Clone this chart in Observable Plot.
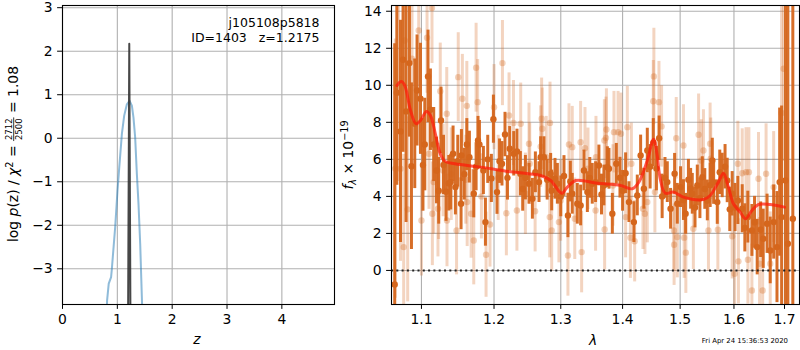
<!DOCTYPE html>
<html>
<head>
<meta charset="utf-8">
<script src="https://cdn.jsdelivr.net/npm/d3@7"></script>
<script src="https://cdn.jsdelivr.net/npm/@observablehq/plot@0.6"></script>
<style>
  html, body { margin: 0; padding: 0; background: white; }
  #wrap { position: relative; width: 800px; height: 350px; font-family: "DejaVu Sans", sans-serif; }
  #wrap svg { position: absolute; top: 0; overflow: visible; }
</style>
</head>
<body>
<div id="wrap"></div>
<script>
// ---------- Left panel: p(z) ----------
const zCurve = [0.81, 0.813, 0.843, 0.886, 0.90, 0.96, 1.003, 1.04, 1.083, 1.125, 1.174, 1.222, 1.265, 1.294, 1.325, 1.356, 1.386, 1.417, 1.447, 1.452];
const logPCurve = [-3.85, -3.73, -3.34, -3.19, -3.0, -2.05, -1.2, -0.59, 0.10, 0.52, 0.78, 0.86, 0.75, 0.48, 0.02, -0.82, -1.51, -2.43, -3.65, -3.85];
const zSpike = [1.197, 1.2175, 1.238];
const logPSpike = [-3.85, 2.17, -3.85];
const zTicks = [0, 1, 2, 3, 4];
const logPTicks = [-3, -2, -1, 0, 1, 2, 3];

// ---------- Right panel: spectrum ----------
// strong (dark) points: wavelength, flux, error
const darkLam = [1.0653,1.0680,1.0727,1.0760,1.0799,1.0843,1.0869,1.0912,1.0942,1.0987,1.1020,1.1044,1.1087,1.1119,1.1163,1.1200,1.1230,1.1261,1.1295,1.1329,1.1366,1.1393,1.1425,1.1457,1.1490,1.1535,1.1540,1.1580,1.1615,1.1651,1.1712,1.1745,1.1772,1.1792,1.1848,1.1877,1.1910,1.1962,1.1991,1.2043,1.2080,1.2115,1.2159,1.2195,1.2228,1.2287,1.2335,1.2385,1.2420,1.2460,1.2514,1.2565,1.2610,1.2665,1.2690,1.2740,1.2790,1.2843,1.2859,1.2910,1.2947,1.3000,1.3050,1.3112,1.3150,1.3180,1.3260,1.3313,1.3366,1.3421,1.3460,1.3500,1.3554,1.3608,1.3650,1.3690,1.3747,1.3773,1.3829,1.3895,1.3956,1.4000,1.4051,1.4107,1.4191,1.4249,1.4306,1.4362,1.4421,1.4470,1.4525,1.4580,1.4627,1.4680,1.4730,1.4771,1.4829,1.4901,1.4949,1.5008,1.5060,1.5099,1.5150,1.5190,1.5220,1.5270,1.5312,1.5360,1.5404,1.5450,1.5497,1.5550,1.5590,1.5615,1.5683,1.5730,1.5776,1.5830,1.5871,1.5920,1.5966,1.6020,1.6075,1.6159,1.6210,1.6268,1.6348,1.6400,1.6452,1.6520,1.6571,1.6648,1.6711,1.6781,1.6847,1.6901,1.6941,1.7021,1.7068,1.7170];
const darkFlux = [-0.76,9.6,7.51,11.38,8.59,11.2,5.63,7.92,9.72,9.27,5.7,6.80,10.48,8.68,6.80,5.4,4.3,8.10,5.7,4.25,4.71,4.77,6.3,4.50,5.9,3.60,6.21,5.2,6.8,6.12,4.14,5.6,7.02,6.80,5.40,2.61,6.0,4.97,8.17,4.23,5.9,5.76,7.34,5.0,6.57,6.30,6.43,5.22,4.4,5.01,4.68,3.87,5.3,4.77,6.12,6.12,4.9,5.22,4.32,4.95,4.68,4.0,5.1,2.97,4.8,4.14,3.60,3.51,5.40,4.23,5.0,4.68,4.77,5.67,4.1,4.59,5.58,5.49,3.06,5.76,5.01,4.3,5.25,3.69,2.61,4.05,6.21,4.41,6.48,5.6,6.9,5.5,7.14,4.0,5.0,4.77,3.33,5.22,3.60,4.50,3.8,3.06,4.9,4.41,4.14,3.4,4.59,3.9,5.04,4.4,3.78,4.6,5.94,4.77,3.69,5.3,5.13,5.6,4.86,3.3,4.14,3.4,3.78,3.33,2.3,2.88,2.16,2.6,1.26,2.2,1.71,2.52,1.08,2.61,1.26,4.77,2.88,4.86,1.44,2.79];
const darkErr = [13,5,6,5,6,4,4.5,3.5,3,3,2.5,2.5,2.5,2.2,2,1.8,1.8,1.8,1.6,1.6,1.5,1.5,1.5,1.5,1.4,1.4,1.4,1.4,1.4,1.4,1.3,1.3,1.3,1.3,1.3,1.3,1.3,1.3,1.3,1.2,1.2,1.2,1.2,1.2,1.2,1.2,1.2,1.2,1.2,1.2,1.1,1.1,1.1,1.1,1.1,1.1,1.1,1.1,1.1,1.1,1.1,1.1,1.1,1.2,1.1,1.1,1.1,1.1,1.1,1.1,1.1,1.1,1.1,1.1,1.1,1.1,1.1,1.1,1.1,1.1,1.1,1.1,1.1,1.1,1.1,1.1,1.1,1.1,1.2,1.2,1.3,1.2,1.2,1.2,1.1,1.1,1.1,1.1,1.1,1.1,1.1,1.1,1.1,1.1,1.1,1.1,1.1,1.1,1.1,1.1,1.1,1.2,1.2,1.2,1.2,1.2,1.2,1.2,1.2,1.2,1.2,1.3,1.3,1.3,1.3,1.4,1.4,1.4,1.5,1.5,1.6,1.6,1.8,2.0,3.0,4,6,11,14,14];

// weak (light) points: wavelength, flux, error
const lightLam = [1.0660,1.0700,1.0727,1.0768,1.0782,1.0820,1.0876,1.0964,1.1000,1.1074,1.1100,1.1140,1.1145,1.1163,1.1220,1.1229,1.1251,1.1290,1.1339,1.1342,1.1400,1.1473,1.1496,1.1553,1.1600,1.1615,1.1620,1.1675,1.1712,1.1745,1.1767,1.1820,1.1886,1.1942,1.2000,1.2060,1.2122,1.2179,1.2218,1.2283,1.2334,1.2390,1.2460,1.2514,1.2525,1.2606,1.2690,1.2705,1.2714,1.2775,1.2829,1.2833,1.2859,1.2971,1.2998,1.3112,1.3128,1.3180,1.3220,1.3313,1.3329,1.3383,1.3431,1.3554,1.3560,1.3698,1.3702,1.3724,1.3731,1.3839,1.3856,1.3924,1.3973,1.4051,1.4080,1.4132,1.4148,1.4204,1.4346,1.4380,1.4421,1.4525,1.4535,1.4553,1.4624,1.4670,1.4889,1.4892,1.4930,1.4949,1.5060,1.5073,1.5103,1.5240,1.5336,1.5385,1.5425,1.5518,1.5549,1.5561,1.5694,1.5966,1.6012,1.6075,1.6086,1.6159,1.6233,1.6270,1.6289,1.6348,1.6478,1.6499,1.6560,1.6628,1.6711,1.6780,1.6940,1.6982];
const lightFlux = [5.5,9.8,5.49,1.26,12.42,3.3,11.43,12.96,2.70,12.57,6.3,14.18,3.06,4.77,3.33,4.27,9.68,5.4,8.46,2.70,5.2,2.16,10.44,9.27,4.9,8.89,3.69,3.06,1.62,10.95,9.09,4.0,0.85,2.48,8.82,5.0,11.2,3.09,8.37,7.96,3.24,7.92,4.14,6.84,5.76,3.20,6.69,8.19,7.65,6.12,2.88,7.97,2.16,2.61,3.78,0.81,6.80,6.66,2.79,6.93,0.99,6.60,5.49,3.24,6.12,7.02,2.21,7.16,7.61,4.59,7.47,7.47,7.38,2.88,7.74,1.77,5.76,1.58,3.33,3.06,3.69,9.14,10.48,4.23,9.09,7.78,2.16,1.39,7.14,1.80,6.75,1.77,0.96,2.25,7.33,5.94,6.48,2.16,6.84,6.03,2.20,1.84,-0.18,5.76,0.49,5.25,5.31,0.58,5.31,-1.08,4.95,0.36,-1.08,5.22,0.36,4.50,8.5,10.89];
const lightErr = [7,5,5,5,4,5,3.5,3,3,3,3,3,2.8,2.8,2.6,2.6,2.6,2.5,2.5,2.5,2.5,2.4,2.4,2.4,2.4,2.4,2.4,2.4,2.4,2.4,2.3,2.3,2.3,2.3,2.3,2.3,2.3,2.3,2.3,2.3,2.2,2.2,2.2,2.2,2.2,2.2,2.2,2.2,2.2,2.2,2.2,2.2,2.2,2.2,2.2,2.2,2.2,2.2,2.2,2.2,2.2,2.2,2.2,2.2,2.2,2.2,2.2,2.2,2.2,2.2,2.2,2.2,2.2,2.2,2.2,2.2,2.2,2.2,2.2,2.2,2.2,2.2,2.6,2.2,2.2,2.2,2.2,2.2,2.2,2.2,2.2,2.2,2.2,2.2,2.2,2.2,2.2,2.2,2.2,2.2,2.2,2.3,2.3,2.3,2.3,2.4,2.4,2.4,2.4,2.5,2.5,2.5,2.6,2.7,2.8,3,6,5];

// model curve
const modelLam = [1.0681,1.0737,1.0782,1.0857,1.0929,1.0987,1.1066,1.1119,1.1185,1.1251,1.1317,1.1451,1.1810,1.2175,1.2508,1.2690,1.2843,1.3014,1.3103,1.3234,1.3583,1.3967,1.4163,1.4276,1.4421,1.4530,1.4589,1.4646,1.4734,1.4882,1.5060,1.5425,1.5549,1.5705,1.5800,1.5895,1.5990,1.6120,1.6225,1.6348,1.6478,1.6711,1.7000];
const modelFlux = [9.99,10.2,9.99,8.64,7.92,8.10,8.59,8.37,7.38,6.30,5.89,5.76,5.58,5.36,5.22,5.13,4.86,4.17,4.50,4.86,4.71,4.59,4.41,4.77,5.94,7.08,6.30,4.95,4.17,4.23,3.96,3.83,4.05,4.77,5.25,4.50,3.60,3.15,2.79,3.24,3.56,3.56,3.42];

const lamTicks = [1.1, 1.2, 1.3, 1.4, 1.5, 1.6, 1.7];
const fluxTicks = [0, 2, 4, 6, 8, 10, 12, 14];

const objName = "j105108p5818";
const objInfo = "ID=1403   z=1.2175";
const stamp = "Fri Apr 24 15:36:53 2020";

// ---------- build tables ----------
const pzCurve = zCurve.map((z, i) => ({z, p: logPCurve[i]}));
const pzSpike = zSpike.map((z, i) => ({z, p: logPSpike[i]}));
const dark = darkLam.map((l, i) => ({l, f: darkFlux[i], e: darkErr[i]}));
const light = lightLam.map((l, i) => ({l, f: lightFlux[i], e: lightErr[i]}));
const model = modelLam.map((l, i) => ({l, f: modelFlux[i]}));

const FS = 13.9;
const gridStyle = {stroke: "#b0b0b0", strokeOpacity: 1, strokeWidth: 1.1};
const orange = "#d5661c";
const intFmt = d3.format("d");

const left = Plot.plot({
  width: 340, height: 350,
  marginLeft: 62, marginRight: 6, marginTop: 5, marginBottom: 46,
  style: {fontFamily: "DejaVu Sans", fontSize: FS + "px", color: "black", background: "transparent"},
  x: {domain: [0, 4.96]},
  y: {domain: [-3.82, 3.05]},
  marks: [
    Plot.gridX(zTicks, gridStyle),
    Plot.gridY(logPTicks, gridStyle),
    Plot.line(pzCurve, {x: "z", y: "p", stroke: "#1f77b4", strokeOpacity: 0.5, strokeWidth: 2, clip: true}),
    Plot.line(pzSpike, {x: "z", y: "p", stroke: "#333333", strokeOpacity: 0.9, strokeWidth: 2, clip: true}),
    Plot.axisX({ticks: zTicks, tickSize: 4.9, tickPadding: 4.5, label: null, fontSize: FS, tickFormat: intFmt}),
    Plot.axisY({ticks: logPTicks, tickSize: 4.9, tickPadding: 4.9, label: null, fontSize: FS, tickFormat: intFmt}),
    Plot.frame({stroke: "black", strokeWidth: 1.1})
  ]
});
left.style.left = "0px";

const right = Plot.plot({
  width: 460, height: 350,
  marginLeft: 51, marginRight: 1, marginTop: 5, marginBottom: 46,
  style: {fontFamily: "DejaVu Sans", fontSize: FS + "px", color: "black", background: "transparent"},
  x: {type: "log", domain: [1.0612, 1.7308]},
  y: {domain: [-1.84, 14.31]},
  marks: [
    Plot.gridX(lamTicks, gridStyle),
    Plot.gridY(fluxTicks, gridStyle),
    Plot.ruleX(light, {x: "l", y1: d => d.f - d.e, y2: d => d.f + d.e, stroke: orange, strokeOpacity: 0.28, strokeWidth: 3, clip: true}),
    Plot.dot(light, {x: "l", y: "f", r: 3.2, fill: orange, fillOpacity: 0.3, stroke: "none", clip: true}),
    Plot.ruleX(dark, {x: "l", y1: d => d.f - d.e, y2: d => d.f + d.e, stroke: orange, strokeOpacity: 0.95, strokeWidth: 3, clip: true}),
    Plot.dot(dark, {x: "l", y: "f", r: 3.2, fill: orange, stroke: "none", clip: true}),
    Plot.line(model, {x: "l", y: "f", stroke: "#ff1a0a", strokeOpacity: 0.72, strokeWidth: 3, curve: "catmull-rom", clip: true}),
    Plot.ruleY([0], {stroke: "#222", strokeWidth: 2, strokeDasharray: "2,3.3"}),
    Plot.axisX({ticks: lamTicks, tickSize: 4.9, tickPadding: 4.5, label: null, fontSize: FS, tickFormat: d => d.toFixed(1)}),
    Plot.axisY({ticks: fluxTicks, tickSize: 4.9, tickPadding: 4.9, label: null, fontSize: FS, tickFormat: intFmt}),
    Plot.frame({stroke: "black", strokeWidth: 1.1})
  ]
});
right.style.left = "340px";

const wrap = document.getElementById("wrap");
wrap.appendChild(left);
wrap.appendChild(right);

// ---------- text helpers ----------
function seq(g, pieces) {
  let x = 0;
  for (const p of pieces) {
    if (p.frac) {
      const size = p.size;
      const num = g.append("text").attr("font-size", size).attr("y", p.ny).text(p.num);
      const den = g.append("text").attr("font-size", size).attr("y", p.dy).text(p.den);
      const wn = num.node().getComputedTextLength();
      const wd = den.node().getComputedTextLength();
      const w = Math.max(wn, wd) + 2;
      num.attr("x", x + (w - wn) / 2);
      den.attr("x", x + (w - wd) / 2);
      g.append("line").attr("x1", x).attr("x2", x + w).attr("y1", p.by).attr("y2", p.by)
        .attr("stroke", "black").attr("stroke-width", 0.8);
      x += w;
    } else {
      const t = g.append("text").attr("x", x).attr("y", p.y || 0).attr("font-size", p.size || FS)
        .style("white-space", "pre").text(p.s);
      if (p.italic) t.attr("font-style", "italic");
      x += t.node().getComputedTextLength();
    }
  }
  return x;
}

// left y label
{
  const g = d3.select(left).append("g").attr("font-family", "DejaVu Sans").attr("fill", "black")
    .attr("text-anchor", "start");
  const inner = g.append("g");
  const w = seq(inner, [
    {s: "log "}, {s: "p", italic: true}, {s: "(z) / "}, {s: "χ", italic: true},
    {s: "2", size: 9.7, y: -5.5}, {s: " = "},
    {frac: true, num: "2712", den: "2500", size: 8.5, ny: -6, dy: 3.5, by: -4.3},
    {s: " = 1.08"}
  ]);
  g.attr("transform", `translate(18,${154 + w / 2}) rotate(-90)`);
}
// right y label
{
  const g = d3.select(right).append("g").attr("font-family", "DejaVu Sans").attr("fill", "black")
    .attr("text-anchor", "start");
  const inner = g.append("g");
  const w = seq(inner, [
    {s: "f", italic: true}, {s: "λ", italic: true, size: 9.7, y: 3}, {s: " × 10"},
    {s: "−19", size: 9.7, y: -5.5}
  ]);
  g.attr("transform", `translate(${353 - 340},${155 + w / 2}) rotate(-90)`);
}
// x labels
d3.select(left).append("text").attr("x", 197).attr("y", 344).attr("text-anchor", "middle")
  .attr("font-family", "DejaVu Sans").attr("font-size", FS).attr("font-style", "italic").text("z");
d3.select(right).append("text").attr("x", 593 - 340).attr("y", 345).attr("text-anchor", "middle")
  .attr("font-family", "DejaVu Sans").attr("font-size", FS).attr("font-style", "italic").text("λ");
// annotation in left panel
d3.select(left).append("text").attr("x", 319.5).attr("y", 26.5).attr("text-anchor", "end")
  .attr("font-family", "DejaVu Sans").attr("font-size", 12.5).text(objName);
d3.select(left).append("text").attr("x", 319.5).attr("y", 41.5).attr("text-anchor", "end")
  .attr("font-family", "DejaVu Sans").attr("font-size", 12.5).style("white-space", "pre").text(objInfo);
// timestamp
d3.select(right).append("text").attr("x", 788 - 340).attr("y", 342.5).attr("text-anchor", "end")
  .attr("font-family", "DejaVu Sans").attr("font-size", 6.9).text(stamp);
</script>
</body>
</html>
